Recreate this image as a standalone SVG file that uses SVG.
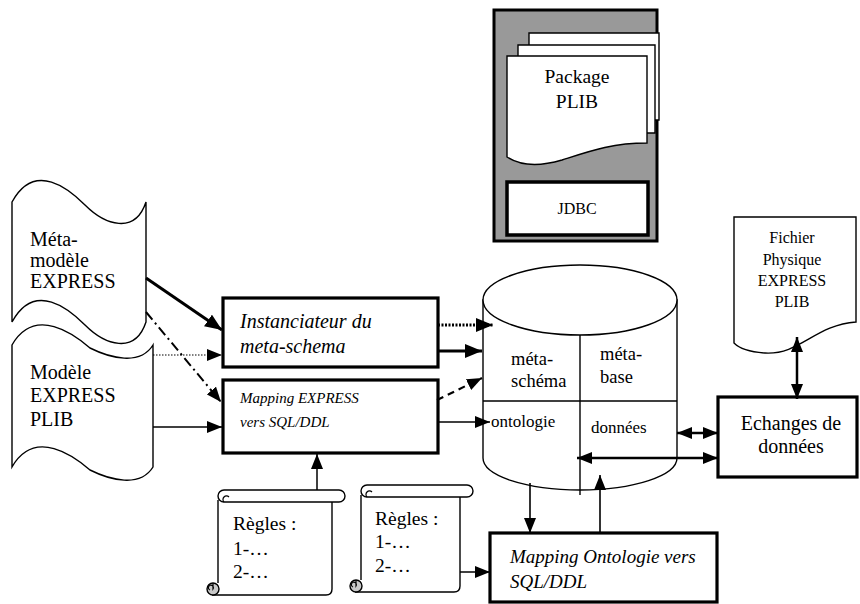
<svg xmlns="http://www.w3.org/2000/svg" width="860" height="604" viewBox="0 0 860 604">
  <style>
    text { font-family: "Liberation Serif", "DejaVu Serif", serif; fill: #000; }
    .it { font-style: italic; }
    .shape { fill: #fff; stroke: #000; stroke-width: 1.4; }
    .box { fill: #fff; stroke: #000; stroke-width: 3.2; }
    .ln { fill: none; stroke: #000; }
  </style>
  <defs>
    <marker id="ah" markerUnits="userSpaceOnUse" markerWidth="17" markerHeight="14" refX="17" refY="7" orient="auto-start-reverse">
      <path d="M0,0 L17,7 L0,14 Z" fill="#000"/>
    </marker>
    <marker id="as" markerUnits="userSpaceOnUse" markerWidth="15" markerHeight="12" refX="15" refY="6" orient="auto-start-reverse">
      <path d="M0,0 L15,6 L0,12 Z" fill="#000"/>
    </marker>
  </defs>

  <!-- PLIB package block -->
  <g id="package">
    <rect x="494" y="10" width="163" height="231" fill="#999" stroke="#000" stroke-width="3"/>
    <path class="shape" d="M529,33 H659 V120 H529 Z"/>
    <path class="shape" d="M518,45 H655 V133 H518 Z"/>
    <path class="shape" d="M507,56 H647 V143 C612,143 590,151 562,160 C545,165 524,168 507,157 Z"/>
    <text x="577" y="83" font-size="19.5" text-anchor="middle" font-family="Liberation Serif, DejaVu Serif, serif">Package</text>
    <text x="577" y="108" font-size="19.5" text-anchor="middle" font-family="Liberation Serif, DejaVu Serif, serif">PLIB</text>
  </g>
  <g id="jdbc">
    <rect x="507" y="182" width="141" height="53" fill="#fff" stroke="#000" stroke-width="3.5"/>
    <text x="577" y="214" font-size="16" text-anchor="middle">JDBC</text>
  </g>

  <!-- input models -->
  <g id="metamodele">
    <path class="shape" d="M12,202 C35,160 70,190 85,205 C105,225 135,235 146,202 V322 C135,355 105,345 85,325 C70,310 35,280 12,322 Z"/>
    <text x="30" y="246" font-size="20">Méta-</text>
    <text x="30" y="267" font-size="20">modèle</text>
    <text x="30" y="288" font-size="20">EXPRESS</text>
  </g>
  <g id="modele">
    <path class="shape" d="M12,345 C35,305 75,335 90,348 C110,358 140,366 153,345 V467 C140,488 110,480 90,470 C75,457 35,427 12,467 Z"/>
    <text x="30" y="379" font-size="20">Modèle</text>
    <text x="30" y="402" font-size="20">EXPRESS</text>
    <text x="30" y="426" font-size="20">PLIB</text>
  </g>

  <!-- processing boxes -->
  <g id="instanciateur">
    <rect class="box" x="223" y="298" width="215" height="69"/>
    <text class="it" x="240" y="328" font-size="20">Instanciateur  du</text>
    <text class="it" x="240" y="353" font-size="20">meta-schema</text>
  </g>
  <g id="mapping-express">
    <rect class="box" x="223" y="380" width="215" height="73"/>
    <text class="it" x="240" y="403" font-size="15">Mapping EXPRESS</text>
    <text class="it" x="240" y="427" font-size="15">vers SQL/DDL</text>
  </g>

  <!-- database -->
  <g id="base">
    <path class="shape" d="M483,300 V458 A97,32 0 0 0 677,458 V300 Z"/>
    <ellipse class="shape" cx="580" cy="300" rx="97" ry="35"/>
    <path class="ln" stroke-width="1.4" d="M580,335 V495 M483,401 H677"/>
    <text x="511" y="365" font-size="18.5">méta-</text>
    <text x="511" y="387" font-size="18.5">schéma</text>
    <text x="600" y="360" font-size="18.5">méta-</text>
    <text x="600" y="383" font-size="18.5">base</text>
    <text x="491" y="427" font-size="17">ontologie</text>
    <text x="591" y="433" font-size="17">données</text>
  </g>

  <!-- exchange -->
  <g id="fichier">
    <path class="shape" d="M734,217 H856 V322 C815,325 800,355 765,353 C750,352 740,349 734,343 Z"/>
    <text x="792" y="243" font-size="16" text-anchor="middle">Fichier</text>
    <text x="792" y="265" font-size="16" text-anchor="middle">Physique</text>
    <text x="792" y="286" font-size="16" text-anchor="middle">EXPRESS</text>
    <text x="792" y="307" font-size="16" text-anchor="middle">PLIB</text>
  </g>
  <g id="echanges">
    <rect class="box" x="718" y="397" width="139" height="80"/>
    <text x="791" y="430" font-size="20" text-anchor="middle">Echanges de</text>
    <text x="791" y="453" font-size="20" text-anchor="middle">données</text>
  </g>

  <g id="mapping-ontologie">
    <rect class="box" x="490" y="533" width="227" height="69"/>
    <text class="it" x="510" y="563" font-size="19">Mapping Ontologie vers</text>
    <text class="it" x="510" y="588" font-size="19">SQL/DDL</text>
  </g>

  <!-- rule scrolls -->
  <g id="regles1">
    <path d="M218,502 H332 V589 Q332,595 326,595 H213 L218,583 Z" fill="#fff"/>
    <path class="ln" stroke-width="1.4" d="M218,500 V583 M212,595 H326 Q332,595 332,589 V502"/>
    <path class="shape" d="M224,490 H339 A6,6 0 0 1 339,502 H224 A6,6 0 0 1 224,490 Z"/>
    <path class="ln" stroke-width="1.2" d="M224,502 A3.2,3.2 0 1 1 229,497"/>
    <circle cx="213" cy="589" r="6" fill="#c8c8c8" stroke="#000" stroke-width="1.4"/>
    <path class="ln" stroke-width="1.2" d="M213,583 V589 A2.5,2.5 0 1 0 210,590"/>
    <text x="233" y="530" font-size="19.5">Règles :</text>
    <text x="233" y="555" font-size="19.5">1-…</text>
    <text x="233" y="578" font-size="19.5">2-…</text>
  </g>
  <g id="regles2">
    <path d="M361,497 H460 V586 Q460,592 454,592 H356 L361,580 Z" fill="#fff"/>
    <path class="ln" stroke-width="1.4" d="M361,495 V580 M355,592 H454 Q460,592 460,586 V497"/>
    <path class="shape" d="M367,485 H467 A6,6 0 0 1 467,497 H367 A6,6 0 0 1 367,485 Z"/>
    <path class="ln" stroke-width="1.2" d="M367,497 A3.2,3.2 0 1 1 372,492"/>
    <circle cx="356" cy="586" r="6" fill="#c8c8c8" stroke="#000" stroke-width="1.4"/>
    <path class="ln" stroke-width="1.2" d="M356,580 V586 A2.5,2.5 0 1 0 353,587"/>
    <text x="375" y="525" font-size="19.5">Règles :</text>
    <text x="375" y="548" font-size="19.5">1-…</text>
    <text x="375" y="572" font-size="19.5">2-…</text>
  </g>

  <!-- connectors -->
  <g id="connectors">
    <path class="ln" stroke-width="3" d="M146,278 L222,330" marker-end="url(#ah)"/>
    <path class="ln" stroke-width="1.2" stroke-dasharray="1.5 1.5" d="M153,355 L222,355" marker-end="url(#as)"/>
    <path class="ln" stroke-width="2" stroke-dasharray="10 4 2 4" d="M146,312 L221,402" marker-end="url(#as)"/>
    <path class="ln" stroke-width="1.3" d="M153,427 L222,427" marker-end="url(#as)"/>

    <path class="ln" stroke-width="3" stroke-dasharray="2 1.5" d="M438,325 L493,325" marker-end="url(#ah)"/>
    <path class="ln" stroke-width="3" d="M438,351 L482,351" marker-end="url(#ah)"/>
    <path class="ln" stroke-width="2.2" stroke-dasharray="7 5" d="M437,400 L482,378" marker-end="url(#as)"/>
    <path class="ln" stroke-width="1.6" d="M438,422 L490,422" marker-end="url(#as)"/>

    <path class="ln" stroke-width="1.5" d="M317,490 L317,454" marker-end="url(#as)"/>
    <path class="ln" stroke-width="1.5" d="M460,572 L490,572" marker-end="url(#as)"/>

    <path class="ln" stroke-width="1.6" d="M530,483 L530,533" marker-end="url(#as)"/>
    <path class="ln" stroke-width="1.6" d="M600,533 L600,475" marker-end="url(#as)"/>

    <path class="ln" stroke-width="2.5" d="M677,433 L718,433" marker-start="url(#as)" marker-end="url(#as)"/>
    <path class="ln" stroke-width="2.5" d="M577,458 L718,458" marker-start="url(#as)" marker-end="url(#as)"/>
    <path class="ln" stroke-width="2.5" d="M797,337 L797,399" marker-start="url(#as)" marker-end="url(#as)"/>
  </g>
</svg>
